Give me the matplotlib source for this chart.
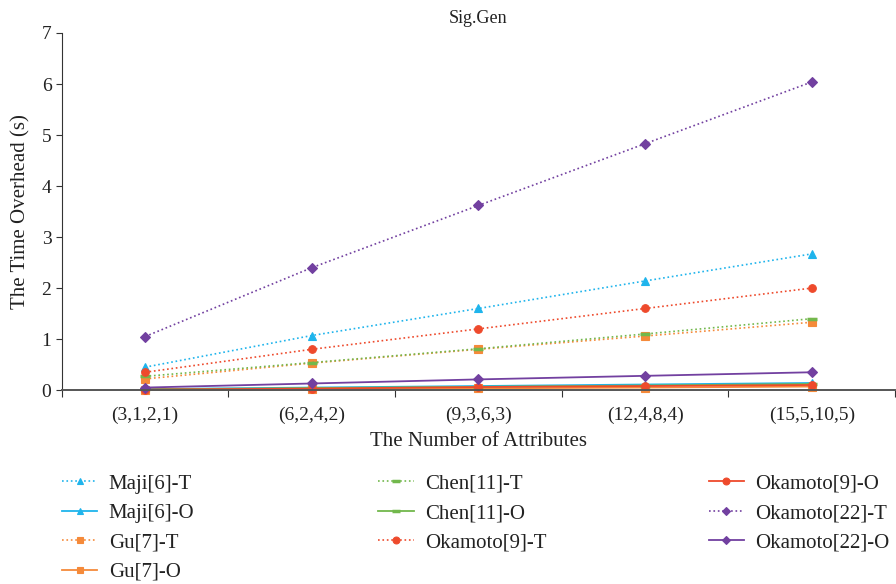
import matplotlib
matplotlib.use('Agg')
from matplotlib import pyplot as plt

plt.rcParams['font.family'] = ['Liberation Serif', 'DejaVu Serif']

categories = ['(3,1,2,1)', '(6,2,4,2)', '(9,3,6,3)', '(12,4,8,4)', '(15,5,10,5)']

maji_t = [0.45, 1.07, 1.60, 2.14, 2.67]
maji_o = [0.02, 0.05, 0.08, 0.11, 0.14]
gu_t = [0.22, 0.53, 0.80, 1.06, 1.33]
gu_o = [0.005, 0.02, 0.035, 0.05, 0.07]
chen_t = [0.27, 0.54, 0.81, 1.10, 1.40]
chen_o = [0.015, 0.04, 0.065, 0.09, 0.12]
oka9_t = [0.35, 0.80, 1.20, 1.60, 2.00]
oka9_o = [0.01, 0.03, 0.06, 0.08, 0.10]
oka22_t = [1.05, 2.40, 3.62, 4.83, 6.04]
oka22_o = [0.05, 0.13, 0.21, 0.28, 0.35]

blue = '#1FB4EC'
orange = '#F58A3A'
green = '#72B84C'
red = '#EE4A2C'
purple = '#7240A0'

series = [
    ('Maji[6]-T', maji_t, blue, ':', '^'),
    ('Maji[6]-O', maji_o, blue, '-', '^'),
    ('Gu[7]-T', gu_t, orange, ':', 's'),
    ('Gu[7]-O', gu_o, orange, '-', 's'),
    ('Chen[11]-T', chen_t, green, ':', '_'),
    ('Chen[11]-O', chen_o, green, '-', '_'),
    ('Okamoto[9]-T', oka9_t, red, ':', 'o'),
    ('Okamoto[9]-O', oka9_o, red, '-', 'o'),
    ('Okamoto[22]-T', oka22_t, purple, ':', 'D'),
    ('Okamoto[22]-O', oka22_o, purple, '-', 'D'),
]

fig = plt.figure(figsize=(8.96, 5.84), dpi=100)
ax = fig.add_axes([0.069, 0.332, 0.93, 0.6115])

x = list(range(len(categories)))
handles = []
for label, vals, color, ls, mk in series:
    ms = 5.5 if mk in ('^', 's', 'o') else 5
    if mk == '_':
        ms = 7
    h, = ax.plot(x, vals, color=color, linestyle=ls, marker=mk, markersize=ms,
                 markeredgewidth=2.5 if mk == '_' else 0.8, linewidth=1.3 if ls == '-' else 1.2,
                 label=label, clip_on=False)
    handles.append(h)

ax.set_xlim(-0.5, len(categories) - 0.5)
ax.set_ylim(0, 7)
ax.set_yticks(range(0, 8))
ax.set_xticks([i - 0.5 for i in range(len(categories) + 1)])
ax.set_xticklabels([])
ax.set_xticks(x, minor=True)
ax.set_xticklabels(categories, minor=True)
ax.tick_params(axis='x', which='minor', length=0, labelsize=14, pad=12, colors='#222222')
ax.tick_params(axis='x', which='major', length=5, direction='out', color='#333333')
ax.tick_params(axis='y', length=4, direction='out', labelsize=14, colors='#222222', color='#333333')

for s in ['top', 'right']:
    ax.spines[s].set_visible(False)
ax.spines['left'].set_color('#333333')
ax.spines['bottom'].set_color('#555555')
ax.spines['bottom'].set_linewidth(1.4)

ax.set_title('Sig.Gen', fontsize=13, pad=7, color='#222222')
ax.set_xlabel('The Number of Attributes', fontsize=15, labelpad=6, color='#222222')
ax.set_ylabel('The Time Overhead (s)', fontsize=15, labelpad=8, color='#222222')

cols = [(handles[0:4], 0.069), (handles[4:7], 0.422), (handles[7:10], 0.791)]
for hs, xpos in cols:
    leg = fig.legend(handles=hs, loc='upper left', bbox_to_anchor=(xpos, 0.188),
                     frameon=False, fontsize=15, handlelength=1.7, labelspacing=0.47,
                     handletextpad=0.55, borderaxespad=0, borderpad=0, markerscale=0.9)
    for t in leg.get_texts():
        t.set_color('#222222')

fig.savefig('out.png', dpi=100)
